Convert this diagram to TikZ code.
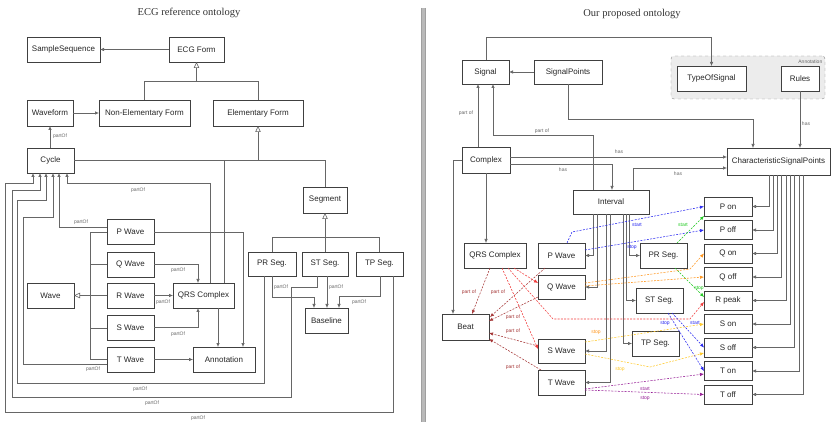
\documentclass[tikz,border=0pt]{standalone}
\usepackage{fontspec}
\setmainfont{Liberation Sans}
\newfontfamily\titlefont{Liberation Serif}
\usetikzlibrary{arrows.meta}
\definecolor{cblue}{RGB}{40,40,240}
\definecolor{cgreen}{RGB}{30,200,30}
\definecolor{corange}{RGB}{255,150,30}
\definecolor{cyellow}{RGB}{255,200,40}
\definecolor{cpurple}{RGB}{150,30,150}
\definecolor{cred}{RGB}{240,60,60}
\definecolor{cbrown}{RGB}{165,55,55}
\newcommand{\mkbox}[6]{\node[box,minimum width={#4-#2},minimum height={#5-#3}] (#1) at ({(#2+#4)/2},{(#3+#5)/2}) {#6};}
\tikzset{
  box/.style={draw=black!75, line width=0.6pt, fill=white, inner sep=0pt, outer sep=0pt, text=black!85, font=\fontsize{8}{9}\selectfont, align=center},
  ln/.style={draw=black!60, line width=0.6pt},
  arr/.style={ln, -{Latex[length=4pt,width=3.4pt]}},
  gen/.style={ln, -{Triangle[open,length=6pt,width=5.5pt]}},
  lbl/.style={font=\fontsize{5}{6}\selectfont, text=black!60, inner sep=0.5pt},
  dsh/.style={line width=0.55pt, dash pattern=on 2pt off 1.3pt, -{Latex[length=4pt,width=3.4pt]}},
  ttl/.style={font=\titlefont\fontsize{10.5}{12}\selectfont, text=black!80}
}
\begin{document}
\begin{tikzpicture}[x=1pt,y=-1pt]
\useasboundingbox (0,0) rectangle (836,422);
% divider
\fill[gray!55] (421.5,8) rectangle (425.5,422);
\draw[gray!75,line width=0.4pt] (421.5,8) -- (421.5,422) (425.5,8) -- (425.5,422);
% titles
\node[ttl] (t1) at (189,13) {ECG reference ontology};
\node[ttl] (t2) at (632,14) {Our proposed ontology};

% ================= LEFT =================
\mkbox{ss}{27}{37}{100}{62}{SampleSequence}
\mkbox{ecg}{169}{37}{224}{62}{ECG Form}
\mkbox{wf}{27}{100}{73}{126}{Waveform}
\mkbox{nef}{99}{100}{190}{126}{Non-Elementary Form}
\mkbox{ef}{213}{100}{303}{126}{Elementary Form}
\mkbox{cyc}{27}{148}{74}{173}{Cycle}
\mkbox{seg}{303}{187}{347}{213}{Segment}
\mkbox{pw}{107}{219}{154}{244}{P Wave}
\mkbox{qw}{107}{252}{154}{277}{Q Wave}
\mkbox{rw}{107}{283}{154}{308}{R Wave}
\mkbox{sw}{107}{315}{154}{340}{S Wave}
\mkbox{tw}{107}{347}{154}{372}{T Wave}
\mkbox{wave}{27}{283}{74}{308}{Wave}
\mkbox{qrs}{173}{283}{234}{308}{QRS Complex}
\mkbox{ann}{193}{347}{255}{372}{Annotation}
\mkbox{prs}{248}{252}{296}{276}{PR Seg.}
\mkbox{sts}{302}{252}{348}{276}{ST Seg.}
\mkbox{tps}{356}{252}{403}{276}{TP Seg.}
\mkbox{base}{305}{308}{348}{333}{Baseline}

\draw[arr] (ecg) -- (ss);
\draw[ln] (nef.north) |- (ef.north |- 0,81) -- (ef.north);
\draw[gen] (ecg.south |- 0,81) -- (ecg.south);
\draw[arr] (wf) -- (nef);
\draw[arr] (cyc.north -| 50,0) -- (wf.south -| 50,0);
\node[lbl] (l1) at (60,136) {partOf};
% elementary form generalization
\draw[ln] (cyc.east) -- (seg.north |- cyc.east) -- (seg.north);
\draw[gen] (ef.south |- cyc.east) -- (ef.south);
\draw[ln] (qrs.north -| 224,0) -- (224,160.5);
% segment generalization
\draw[ln] (prs.north) |- (tps.north |- 0,237) -- (tps.north);
\draw[gen] (sts.north) -- (seg.south);
% partOf to Cycle
\draw[arr] (qrs.north -| 210,0) |- (67,183) -- (cyc.south -| 67,0);
\node[lbl] (l2) at (138,190) {partOf};
\draw[arr] (pw.west |- 0,227) -| (cyc.south -| 59,0);
\node[lbl] (l3) at (81,222) {partOf};
\draw[arr] (tw.west |- 0,364) -| (23,217) -| (cyc.south -| 53,0);
\node[lbl] (l4) at (93,369) {partOf};
\draw[arr] (prs.south -| 264,0) |- (17,383) |- (46,200) -- (cyc.south -| 46,0);
\node[lbl] (l5) at (140,389) {partOf};
\draw[arr] (sts.south -| 317,0) |- (291,287) |- (12,397) |- (40,190) -- (cyc.south -| 40,0);
\node[lbl] (l6) at (152,403) {partOf};
\draw[arr] (tps.south -| 393,0) |- (5,412) |- (33,183) -- (cyc.south -| 33,0);
\node[lbl] (l7) at (198,418) {partOf};
% segments to baseline
\draw[arr] (prs.south -| 272,0) |- (314,297) -- (base.north -| 314,0);
\node[lbl] (l8) at (281,287) {partOf};
\draw[arr] (sts.south -| 327,0) -- (base.north -| 327,0);
\node[lbl] (l9) at (336,287) {partOf};
\draw[arr] (tps.south -| 380,0) |- (339,296) -- (base.north -| 339,0);
\node[lbl] (l10) at (359,302) {partOf};
% wave generalization
\draw[ln] (pw.west |- 0,232) -- (90,232) -- (90,359) -- (tw.west |- 0,359);
\draw[ln] (90,264) -- (qw.west |- 0,264);
\draw[ln] (90,328) -- (sw.west |- 0,328);
\draw[gen] (rw.west) -- (wave.east);
% waves to QRS / annotation
\draw[arr] (pw.east |- 0,232) -| (ann.north -| 243,0);
\draw[arr] (qw.east) -| (qrs.north -| 198,0);
\node[lbl] (l11) at (178,270) {partOf};
\draw[arr] (rw) -- (qrs);
\node[lbl] (l12) at (163,302) {partOf};
\draw[arr] (sw.east) -| (qrs.south -| 198,0);
\node[lbl] (l13) at (178,334) {partOf};
\draw[arr] (tw) -- (ann);
\draw[arr] (qrs.south -| 218,0) -- (ann.north -| 218,0);

% ================= RIGHT =================
\node[draw=black!45, dashed, rounded corners=3pt, fill=gray!15, minimum width=154pt, minimum height=43pt, inner sep=0pt] (grp) at (748,77.5) {};
\node[lbl, anchor=east] (l20) at (823,62) {Annotation};
\mkbox{sig}{462}{60}{509}{84}{Signal}
\mkbox{sp}{534}{60}{602}{84}{SignalPoints}
\mkbox{tos}{677}{66}{746}{91}{TypeOfSignal}
\mkbox{rules}{781}{66}{819}{91}{Rules}
\mkbox{csp}{727}{148}{830}{175}{CharacteristicSignalPoints}
\mkbox{cx}{462}{147}{510}{173}{Complex}
\mkbox{int}{573}{190}{649}{214}{Interval}
\mkbox{rqrs}{464}{243}{526}{268}{QRS Complex}
\mkbox{rpw}{538}{243}{585}{268}{P Wave}
\mkbox{rqw}{538}{275}{585}{299}{Q Wave}
\mkbox{rsw}{538}{339}{585}{363}{S Wave}
\mkbox{rtw}{538}{370}{585}{395}{T Wave}
\mkbox{rprs}{640}{243}{687}{268}{PR Seg.}
\mkbox{rsts}{636}{288}{683}{313}{ST Seg.}
\mkbox{rtps}{632}{331}{679}{356}{TP Seg.}
\mkbox{beat}{442}{314}{489}{340}{Beat}
\mkbox{pon}{704}{197}{752}{216}{P on}
\mkbox{poff}{704}{220.5}{752}{239.5}{P off}
\mkbox{qon}{704}{244}{752}{263}{Q on}
\mkbox{qoff}{704}{267.5}{752}{286.5}{Q off}
\mkbox{rpk}{704}{291}{752}{310}{R peak}
\mkbox{son}{704}{314.5}{752}{333.5}{S on}
\mkbox{soff}{704}{338}{752}{357}{S off}
\mkbox{ton}{704}{361.5}{752}{380.5}{T on}
\mkbox{toff}{704}{385}{752}{404}{T off}

\draw[arr] (sp) -- (sig);
\draw[arr] (sig.north -| 486,0) |- (tos.north |- 0,37) -- (tos.north);
\draw[arr] (rules.south) -- (csp.north -| rules.south);
\node[lbl] (r1) at (806,124) {has};
\draw[arr] (sp.south -| 568,0) |- (753,119) -- (csp.north -| 753,0);
\draw[arr] (cx.north -| 478,0) -- (sig.south -| 478,0);
\node[lbl] (r2) at (466,113) {part of};
\draw[arr] (int.north -| 593,0) |- (493,135) -- (sig.south -| 493,0);
\node[lbl] (r3) at (542,131) {part of};
\draw[arr] (cx.east |- 0,157) -- (csp.west |- 0,157);
\node[lbl] (r4) at (619,152) {has};
\draw[arr] (cx.east |- 0,164) -| (int.north -| 612,0);
\node[lbl] (r5) at (563,170) {has};
\draw[arr] (int.north -| 633,0) |- (csp.west |- 0,168);
\node[lbl] (r6) at (678,174) {has};
\draw[arr] (cx.west) -| (beat.north -| 453,0);
\draw[arr] (cx.south -| 486,0) -- (rqrs.north -| 486,0);
% interval to parts
\draw[arr] (int.south -| 593,0) |- (rpw.east);
\draw[arr] (int.south -| 597,0) |- (rqw.east);
\draw[arr] (int.south -| 606,0) |- (rsw.east);
\draw[arr] (int.south -| 610,0) |- (rtw.east);
\draw[arr] (int.south -| 629,0) |- (rprs.west);
\draw[arr] (int.south -| 626,0) |- (rsts.west);
\draw[arr] (int.south -| 623,0) |- (rtps.west);
% CSP to points
\draw[arr] (csp.south -| 769,0) |- (pon.east);
\draw[arr] (csp.south -| 773,0) |- (poff.east);
\draw[arr] (csp.south -| 777,0) |- (qon.east);
\draw[arr] (csp.south -| 781,0) |- (qoff.east);
\draw[arr] (csp.south -| 786,0) |- (rpk.east);
\draw[arr] (csp.south -| 790,0) |- (son.east);
\draw[arr] (csp.south -| 794,0) |- (soff.east);
\draw[arr] (csp.south -| 799,0) |- (ton.east);
\draw[arr] (csp.south -| 803,0) |- (toff.east);
% part of to Beat (brown)
\draw[dsh,cbrown] (rqrs.south -| 490,0) -- (beat.north -| 472,0);
\node[lbl,text=cbrown] (b1) at (469,292) {part of};
\draw[dsh,cbrown] (rpw.south -| 545,0) -- (490,317);
\node[lbl,text=cbrown] (b2) at (498,292) {part of};
\draw[dsh,cbrown] (rqw.west |- 0,297) -- (beat.east |- 0,321);
\node[lbl,text=cbrown] (b3) at (513,317) {part of};
\draw[dsh,cbrown] (rsw.west |- 0,346) -- (beat.east |- 0,333);
\node[lbl,text=cbrown] (b4) at (513,331) {part of};
\draw[dsh,cbrown] (rtw.north -| 541,0) -- (beat.east |- 0,339);
\node[lbl,text=cbrown] (b5) at (513,367) {part of};
% QRS to Q, S, R peak (red)
\draw[dsh,cred] (rqrs.south -| 514,0) -- (rqw.west |- 0,283);
\draw[dsh,cred] (rqrs.south -| 502,0) -- (rsw.west |- 0,349);
\draw[dsh,cred] (rqrs.south -| 508,0) -- (553,319) -- (690,319) -- (rpk.west |- 0,302);
% P wave (blue)
\draw[dsh,cblue] (rpw.north -| 567,0) -- (572,232) -- (pon.west);
\node[lbl,text=cblue] (c1) at (637,225) {start};
\draw[dsh,cblue] (rpw.east |- 0,250) -- (poff.west);
\node[lbl,text=cblue] (c2) at (632,247) {stop};
% PR seg (green)
\draw[dsh,cgreen] (rprs.north -| 677,0) -- (pon.south west);
\node[lbl,text=cgreen] (c3) at (683,225) {start};
\draw[dsh,cgreen] (rprs.south -| 675,0) -- (rpk.west |- 0,297);
\node[lbl,text=cgreen] (c4) at (699,288) {stop};
% Q wave (orange)
\draw[dsh,corange] (rqw.east |- 0,283) -- (690,269) -- (qon.west);
\draw[dsh,corange] (rqw.east |- 0,286) -- (qoff.west);
% ST seg (blue)
\draw[dsh,cblue] (rsts.south -| 672,0) -- (soff.west);
\node[lbl,text=cblue] (c5) at (695,323) {start};
\draw[dsh,cblue] (rsts.south -| 668,0) -- (ton.west);
\node[lbl,text=cblue] (c6) at (665,323) {stop};
% S wave (yellow)
\draw[dsh,cyellow] (rsw.east |- 0,342) -- (son.west);
\node[lbl,text=corange] (c7) at (596,332) {stop};
\draw[dsh,cyellow] (rsw.east |- 0,354) -- (650,367) -- (soff.west |- 0,353);
\node[lbl,text=cyellow] (c8) at (620,369) {stop};
% T wave (purple)
\draw[dsh,cpurple] (rtw.east |- 0,389) -- (ton.west |- 0,374);
\node[lbl,text=cpurple] (c9) at (645,389) {start};
\draw[dsh,cpurple] (rtw.east |- 0,390) -- (toff.west);
\node[lbl,text=cpurple] (c10) at (645,398) {stop};
\end{tikzpicture}
\end{document}
